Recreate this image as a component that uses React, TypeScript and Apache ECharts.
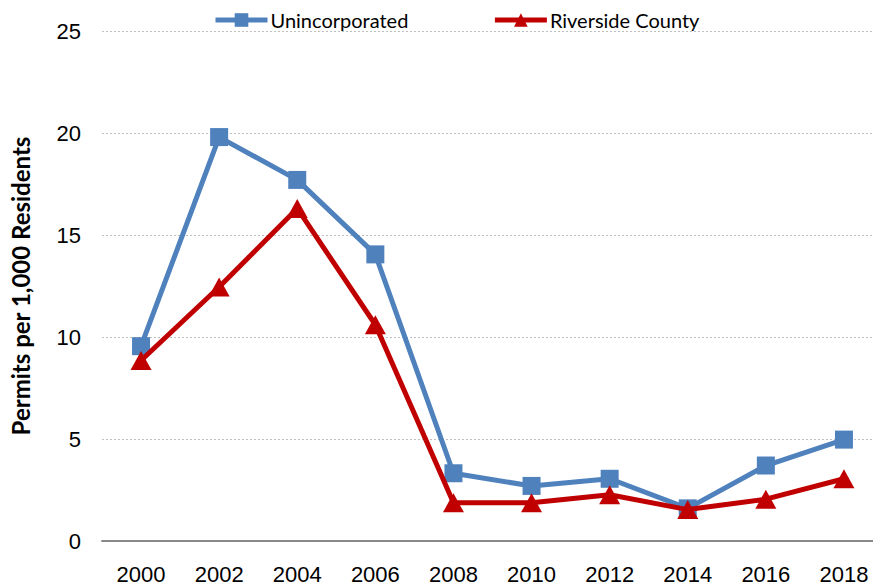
import React, { useEffect, useRef } from "react";
import * as echarts from "echarts";

const years = ["2000", "2002", "2004", "2006", "2008", "2010", "2012", "2014", "2016", "2018"];
const unincorporated = [9.55, 19.8, 17.7, 14.05, 3.32, 2.7, 3.05, 1.6, 3.7, 4.97];
const riverside = [8.85, 12.45, 16.3, 10.6, 1.87, 1.87, 2.27, 1.54, 2.05, 3.05];
const yTicks = { min: 0, max: 25, interval: 5 };

const tickFont = "'Liberation Sans', Arial, sans-serif";

export default function App() {
  const ref = useRef<HTMLDivElement>(null);
  useEffect(() => {
    const chart = echarts.init(ref.current!, null, { renderer: "svg" });
    chart.setOption({
      animation: false,
      backgroundColor: "#ffffff",
      legend: {
        top: 5,
        left: 208,
        itemGap: 84,
        itemWidth: 52,
        itemHeight: 17,
        lineStyle: { width: 5 },
        textStyle: { fontFamily: "Lato, 'Open Sans', sans-serif", fontSize: 20, color: "#000", padding: [0, 0, 0, -2] },
        data: ["Unincorporated", "Riverside County"],
      },
      grid: { left: 100, right: 10, top: 31, bottom: 45, containLabel: false },
      xAxis: {
        type: "category",
        data: years,
        boundaryGap: true,
        axisLine: { lineStyle: { color: "#898989", width: 2 } },
        axisTick: { show: false },
        axisLabel: {
          interval: 0,
          margin: 22,
          fontFamily: tickFont,
          fontSize: 22,
          color: "#000",
        },
      },
      yAxis: {
        type: "value",
        min: yTicks.min,
        max: yTicks.max,
        interval: yTicks.interval,
        name: "Permits per 1,000 Residents",
        nameLocation: "middle",
        nameGap: 70,
        nameTextStyle: {
          fontFamily: "Lato, 'Open Sans', sans-serif",
          fontWeight: "bold",
          fontSize: 24,
          color: "#000",
        },
        axisLine: { show: false },
        axisTick: { show: false },
        axisLabel: {
          margin: 21,
          fontFamily: tickFont,
          fontSize: 22,
          color: "#000",
        },
        splitLine: { lineStyle: { color: "#BFBFBF", type: [2, 2], width: 1 } },
      },
      series: [
        {
          name: "Unincorporated",
          type: "line",
          data: unincorporated,
          symbol: "rect",
          symbolSize: 18,
          lineStyle: { color: "#4F81BD", width: 5 },
          itemStyle: { color: "#4F81BD" },
          z: 2,
        },
        {
          name: "Riverside County",
          type: "line",
          data: riverside,
          symbol: "triangle",
          symbolSize: [21, 19],
          lineStyle: { color: "#C00000", width: 5 },
          itemStyle: { color: "#C00000" },
          z: 3,
        },
      ],
    });
    return () => chart.dispose();
  }, []);
  return (
    <div style={{ position: "fixed", left: 0, top: 0, width: 873, height: 586, overflow: "hidden", background: "#fff" }}>
      <div ref={ref} style={{ width: 893, height: 586 }} />
    </div>
  );
}
